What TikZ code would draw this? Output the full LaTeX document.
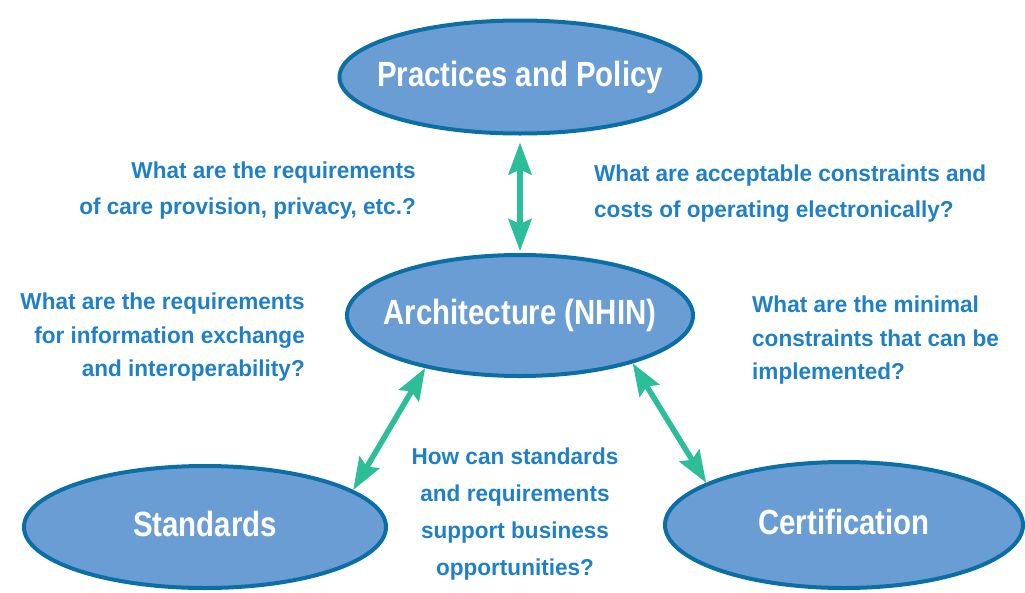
\documentclass[tikz,border=0pt]{standalone}
\usepackage{fontspec}
\setmainfont{Liberation Sans}
\newfontfamily\bigfont{Liberation Sans}[FakeStretch=0.84]
\newfontfamily\smallfont{Liberation Sans}[FakeStretch=0.98]
\usetikzlibrary{shapes.geometric,arrows.meta}
\definecolor{fillblue}{HTML}{6A9DD3}
\definecolor{edgeblue}{HTML}{0B6FA5}
\definecolor{qblue}{HTML}{1F80C8}
\definecolor{linkgreen}{HTML}{2BBE99}
\begin{document}
\begin{tikzpicture}[x=1pt,y=-1pt,
  oval/.style={ellipse, draw=edgeblue, line width=4pt, fill=fillblue,
    inner xsep=-50pt, inner ysep=-5pt,
    text=white, font=\bigfont\bfseries\fontsize{35}{40}\selectfont,
    text height=25pt, text depth=7pt},
  q/.style={text=qblue, inner sep=0pt, font=\smallfont\bfseries\fontsize{23}{36}\selectfont},
  link/.style={draw=linkgreen, line width=5.5pt,
    {Stealth[length=32pt,width=23pt,inset=5pt]}-{Stealth[length=32pt,width=23pt,inset=5pt]}}
]
\useasboundingbox (0,0) rectangle (1025,592);

\node[oval, minimum width=361pt, minimum height=113pt] (pp) at (520,77) {Practices and Policy};
\node[oval, minimum width=346pt, minimum height=121pt] (arch) at (520,315.5) {Architecture (NHIN)};
\node[oval, minimum width=362pt, minimum height=122pt] (std) at (205,527) {Standards};
\node[oval, minimum width=358pt, minimum height=126pt] (cert) at (844,525) {Certification};

\draw[link, shorten <=7pt, shorten >=2pt] (pp.south) -- (arch.north);
\draw[link] (arch.209) -- (std.14);
\draw[link] (arch.337) -- (cert.163);

\node[q, anchor=north east, align=right] (q1) at (416,162)
  {What are the requirements\\of care provision, privacy, etc.?};
\node[q, anchor=north west, align=left] (q2) at (594,165)
  {What are acceptable constraints and\\costs of operating electronically?};
\node[q, anchor=north east, align=right, font=\smallfont\bfseries\fontsize{23}{33.5}\selectfont] (q3) at (305,293)
  {What are the requirements\\for information exchange\\and interoperability?};
\node[q, anchor=north west, align=left, font=\smallfont\bfseries\fontsize{23}{33.5}\selectfont] (q4) at (752,296)
  {What are the minimal\\constraints that can be\\implemented?};
\node[q, anchor=north, align=center, font=\smallfont\bfseries\fontsize{23}{37}\selectfont] (q5) at (515,448)
  {How can standards\\and requirements\\support business\\opportunities?};
\end{tikzpicture}
\end{document}
